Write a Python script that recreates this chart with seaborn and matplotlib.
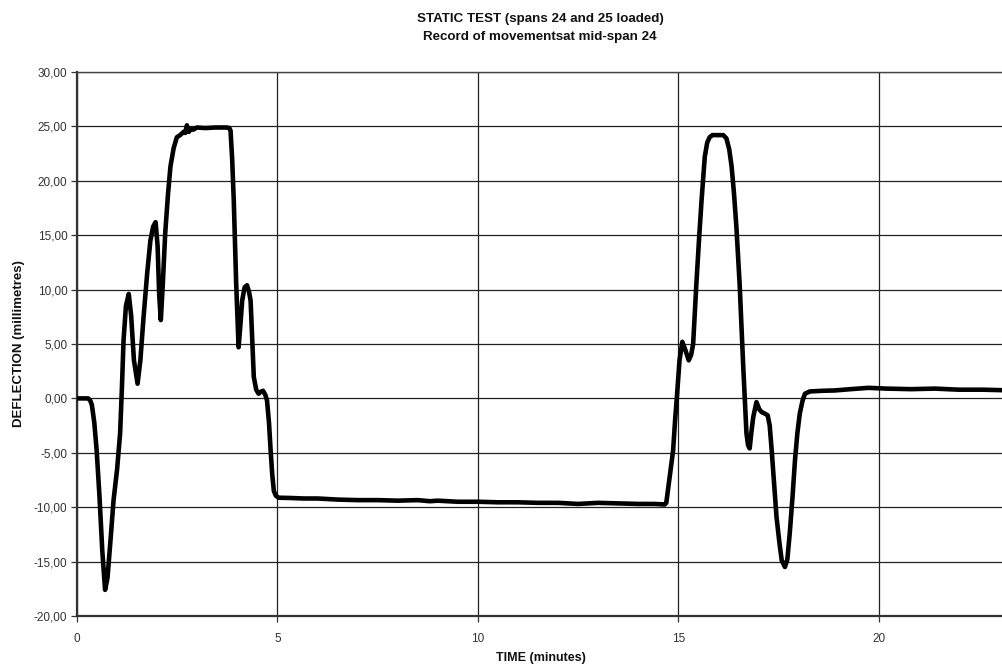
import matplotlib
matplotlib.use("Agg")
import matplotlib.pyplot as plt
import matplotlib.ticker as mticker
import pandas as pd
import seaborn as sns

# Deflection record at mid-span 24 (time in minutes, deflection in mm)
time_min = [
    0.00, 0.15, 0.28, 0.33, 0.37, 0.43, 0.49, 0.56, 0.63, 0.70, 0.76, 0.84, 0.91,
    1.00, 1.075, 1.12, 1.16, 1.22, 1.29, 1.35, 1.42, 1.51, 1.58, 1.66, 1.75,
    1.83, 1.90, 1.96, 2.01, 2.05, 2.09, 2.14, 2.20, 2.27, 2.33, 2.41, 2.49,
    2.57, 2.66, 2.70, 2.74, 2.79, 2.84, 2.90, 2.99, 3.20, 3.45, 3.74, 3.80,
    3.83, 3.87, 3.91, 3.97, 4.03, 4.07, 4.12, 4.18, 4.24, 4.29, 4.33, 4.37,
    4.41, 4.47, 4.53, 4.58, 4.64, 4.70, 4.74, 4.79, 4.83, 4.87, 4.91, 4.96,
    5.03, 5.30, 5.66, 6.00, 6.50, 7.00, 7.50, 8.00, 8.50, 8.80, 9.00, 9.50,
    10.00, 10.50, 11.00, 11.50, 12.00, 12.50, 13.00, 13.50, 14.00, 14.40,
    14.66, 14.70, 14.74, 14.80, 14.87, 14.92, 14.97, 15.03, 15.10, 15.18,
    15.26, 15.32, 15.37, 15.45, 15.52, 15.58, 15.66, 15.72, 15.78, 15.85,
    15.95, 16.03, 16.12, 16.20, 16.27, 16.33, 16.39, 16.45, 16.53, 16.62,
    16.70, 16.74, 16.78, 16.82, 16.87, 16.95, 17.02, 17.08, 17.16, 17.23,
    17.28, 17.33, 17.39, 17.45, 17.52, 17.58, 17.66, 17.72, 17.78, 17.85,
    17.91, 17.97, 18.03, 18.10, 18.16, 18.28, 18.60, 18.90, 19.30, 19.74,
    20.20, 20.80, 21.40, 22.00, 22.60, 23.15,
]
deflection_mm = [
    0.00, 0.00, 0.00, -0.20, -0.60, -2.20, -4.80, -9.00, -14.00, -17.60, -16.50, -12.80, -9.40,
    -6.50, -3.20, 1.00, 5.30, 8.50, 9.60, 7.60, 3.50, 1.35, 3.50, 7.50, 11.50,
    14.50, 15.80, 16.20, 14.00, 9.50, 7.20, 10.50, 15.20, 18.80, 21.30, 23.00, 24.00,
    24.20, 24.50, 24.40, 25.10, 24.50, 24.80, 24.70, 24.90, 24.85, 24.90, 24.90, 24.85,
    24.60, 22.00, 18.20, 10.60, 4.70, 6.50, 9.00, 10.20, 10.40, 9.80, 9.00, 5.50,
    1.96, 0.80, 0.43, 0.60, 0.70, 0.30, -0.20, -2.30, -4.80, -7.00, -8.50, -8.95,
    -9.13, -9.15, -9.20, -9.20, -9.30, -9.35, -9.35, -9.40, -9.35, -9.45, -9.40, -9.50,
    -9.50, -9.55, -9.55, -9.60, -9.60, -9.70, -9.60, -9.65, -9.70, -9.70,
    -9.75, -9.60, -8.46, -6.80, -4.80, -2.00, 0.40, 3.50, 5.20, 4.40,
    3.50, 4.00, 5.00, 10.50, 14.80, 18.20, 22.20, 23.50, 24.00, 24.20,
    24.20, 24.20, 24.20, 23.90, 22.90, 21.30, 18.80, 15.70, 10.50, 2.90,
    -3.20, -4.30, -4.60, -3.20, -1.70, -0.34, -1.00, -1.26, -1.40, -1.56,
    -2.50, -4.80, -7.80, -10.90, -13.20, -14.90, -15.50, -14.80, -12.40, -9.00,
    -5.70, -3.20, -1.40, -0.20, 0.43, 0.64, 0.70, 0.73, 0.85, 0.97,
    0.90, 0.85, 0.90, 0.80, 0.80, 0.75,
]

x_ticks = [0, 5, 10, 15, 20]
y_ticks = [-20, -15, -10, -5, 0, 5, 10, 15, 20, 25, 30]

title_lines = ["STATIC TEST (spans 24 and 25 loaded)", "Record of movementsat mid-span 24"]
x_label = "TIME (minutes)"
y_label = "DEFLECTION (millimetres)"

record = pd.DataFrame({"time": time_min, "deflection": deflection_mm})

sns.set_theme(style="white")
plt.rcParams["font.family"] = ["Liberation Sans", "DejaVu Sans"]

fig = plt.figure(figsize=(10.03, 6.65), dpi=100)
ax = fig.add_axes([0.0768, 0.0737, 0.9232 + 0.002, 0.818])

sns.lineplot(data=record, x="time", y="deflection", ax=ax, color="black",
             linewidth=3.3, sort=False, estimator=None, solid_joinstyle="round",
             solid_capstyle="round", zorder=3)

ax.set_xlim(0, 23.15)
ax.set_ylim(-20, 30)
ax.set_xticks(x_ticks)
ax.set_yticks(y_ticks)
ax.yaxis.set_major_formatter(mticker.FuncFormatter(lambda v, _: f"{v:.2f}".replace(".", ",")))
ax.xaxis.set_major_formatter(mticker.FuncFormatter(lambda v, _: f"{v:.0f}"))

ax.grid(True, color="#222222", linewidth=0.9)
ax.set_axisbelow(True)

ax.spines["right"].set_visible(False)
ax.spines["top"].set_color("#444444")
ax.spines["top"].set_linewidth(1.0)
for side in ("left", "bottom"):
    ax.spines[side].set_color("#333333")
    ax.spines[side].set_linewidth(1.6)

ax.tick_params(axis="both", which="major", direction="out", length=4, width=0.9,
               color="#333333", labelsize=8.5, labelcolor="#333333",
               bottom=True, left=True)
ax.tick_params(axis="x", pad=8)
ax.tick_params(axis="y", pad=3)

ax.set_xlabel(x_label, fontsize=9, fontweight="bold", labelpad=5, color="#111111")
ax.set_ylabel(y_label, fontsize=9.5, fontweight="bold", labelpad=6, color="#111111")

fig.text(0.5385, 0.972, title_lines[0], ha="center", va="center",
         fontsize=9.6, fontweight="bold", color="#111111")
fig.text(0.5385, 0.944, title_lines[1], ha="center", va="center",
         fontsize=9.6, fontweight="bold", color="#111111")

fig.savefig("out.png", dpi=100, facecolor="white")
